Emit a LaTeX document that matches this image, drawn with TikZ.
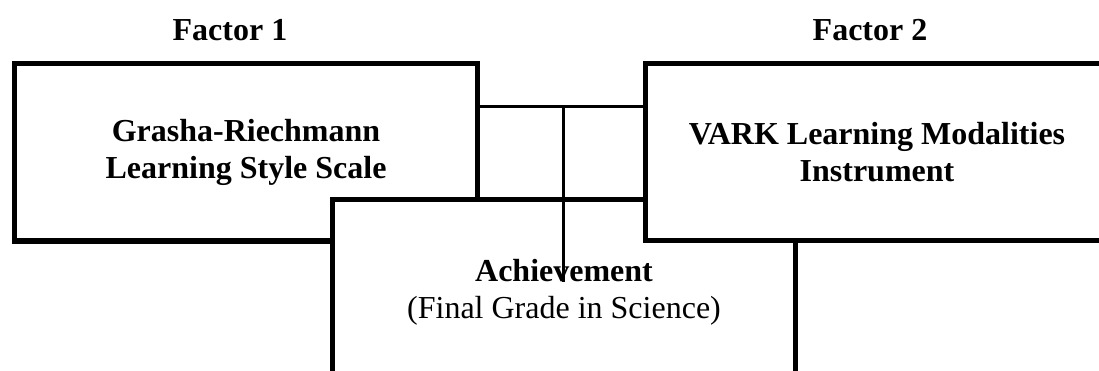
\documentclass[tikz,border=0pt]{standalone}
\usepackage{fontspec}
\setmainfont{Liberation Serif}
\usetikzlibrary{positioning}

\begin{document}
\begin{tikzpicture}[
    x=1pt, y=-1pt,
    every node/.style={align=center, font=\fontsize{32}{37}\selectfont},
    factorbox/.style={draw=black, line width=5pt, fill=white, minimum width=463pt, minimum height=177pt, inner sep=0pt},
    heading/.style={font=\fontsize{32}{37}\selectfont\bfseries},
    link/.style={draw=black, line width=3pt}
]
\clip (0,0) rectangle (1099,371);

\node[heading] (f1) at (230,30) {Factor 1};
\node[heading] (f2) at (870,30) {Factor 2};

\node[factorbox] (grasha) at (246,152.5) {\textbf{Grasha-Riechmann}\\\textbf{Learning Style Scale}};
\node[factorbox, minimum height=184pt] (achieve) at (564,292) {\textbf{Achievement}\\(Final Grade in Science)};
\node[factorbox] (vark) at (877,152) {\textbf{VARK Learning Modalities}\\\textbf{Instrument}};

\coordinate (split) at (563,106.5);
\coordinate (tip) at (563,282);
\draw[link] (grasha.east |- split) -- (vark.west |- split);
\draw[link] (split) -- (tip);

\end{tikzpicture}
\end{document}
